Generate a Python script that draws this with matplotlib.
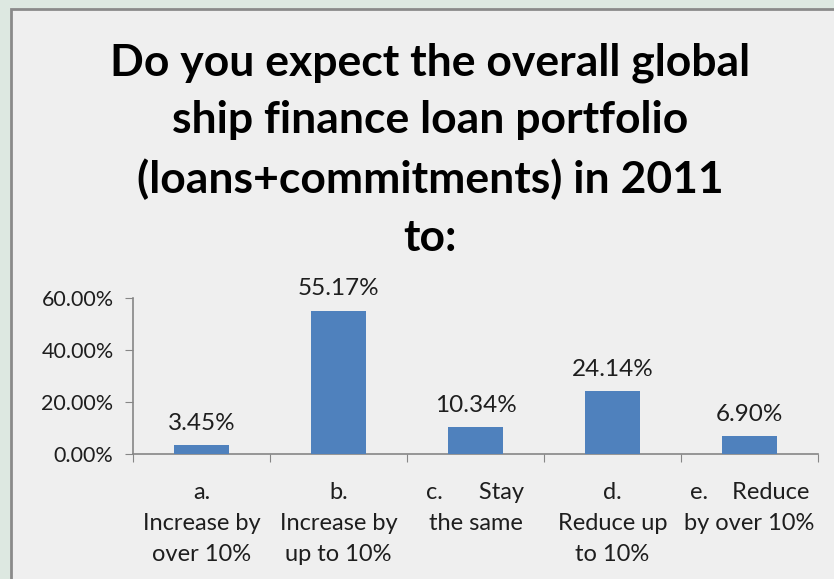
import matplotlib
matplotlib.use("Agg")
from matplotlib import pyplot as plt
from matplotlib.patches import Rectangle

plt.rcParams['font.family'] = ['Lato', 'DejaVu Sans']

categories = ["a.\nIncrease by\nover 10%", "b.\nIncrease by\nup to 10%", "c.      Stay\nthe same",
              "d.\nReduce up\nto 10%", "e.    Reduce\nby over 10%"]
values = [3.45, 55.17, 10.34, 24.14, 6.90]
yticks = [0, 20, 40, 60]

fig = plt.figure(figsize=(8.34, 5.79), dpi=100)
fig.patch.set_facecolor('#dde8e1')
fig.patches.append(Rectangle((11 / 834, -0.1), 1.0, 1 - 9 / 579 + 0.1, transform=fig.transFigure,
                             facecolor='#efefef', edgecolor='#8a8a8a', linewidth=2, zorder=-10))

ax = fig.add_axes([133 / 834, 1 - 454 / 579, (818 - 133) / 834, (454 - 298) / 579])
ax.set_facecolor('none')

x = range(len(values))
ax.bar(x, values, width=0.4, color='#4f81bd', zorder=3)
for i, v in zip(x, values):
    ax.annotate("%.2f%%" % v, (i, v), xytext=(0, 8), textcoords='offset points',
                ha='center', va='bottom', fontsize=17.5, color='#1e1e1e')

ax.set_xlim(-0.5, len(values) - 0.5)
ax.set_ylim(0, 60)
ax.set_yticks(yticks)
ax.set_yticklabels(["%.2f%%" % t for t in yticks], fontsize=15.5, color='#1e1e1e')
ax.set_xticks([i - 0.5 for i in range(len(values) + 1)])
ax.set_xticklabels([])
ax.set_xticks(list(x), minor=True)
ax.set_xticklabels(categories, minor=True, fontsize=17, color='#1e1e1e', linespacing=1.6)
ax.tick_params(axis='x', which='minor', length=0, pad=20)
ax.tick_params(axis='both', which='major', length=6, color='#868686', direction='out')
ax.tick_params(axis='y', pad=8)

for s in ['top', 'right']:
    ax.spines[s].set_visible(False)
for s in ['left', 'bottom']:
    ax.spines[s].set_color('#868686')
    ax.spines[s].set_linewidth(1.2)

fig.text(430 / 834, 1 - 150 / 579,
         "Do you expect the overall global\nship finance loan portfolio\n(loans+commitments) in 2011\nto:",
         ha='center', va='center', fontsize=32, fontweight='bold', color='black', linespacing=1.53)

fig.savefig("out.png", dpi=100, facecolor=fig.get_facecolor())
